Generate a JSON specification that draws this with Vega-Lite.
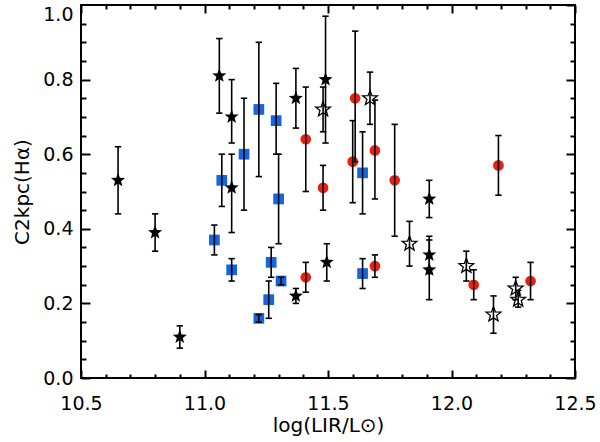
{
  "$schema": "https://vega.github.io/schema/vega-lite/v6.json",
  "width": 494,
  "height": 373,
  "autosize": {"type": "none"},
  "padding": {"left": 81, "top": 5, "right": 25, "bottom": 64},
  "config": {"view": {"stroke": "black", "strokeWidth": 2}},
  "datasets": {
    "stars": [
      {"x": 10.65, "y": 0.53, "lo": 0.44, "hi": 0.62},
      {"x": 10.80, "y": 0.39, "lo": 0.34, "hi": 0.44},
      {"x": 10.90, "y": 0.11, "lo": 0.08, "hi": 0.14},
      {"x": 11.06, "y": 0.81, "lo": 0.71, "hi": 0.91},
      {"x": 11.11, "y": 0.70, "lo": 0.63, "hi": 0.80},
      {"x": 11.11, "y": 0.51, "lo": 0.39, "hi": 0.60},
      {"x": 11.37, "y": 0.75, "lo": 0.67, "hi": 0.83},
      {"x": 11.37, "y": 0.22, "lo": 0.20, "hi": 0.24},
      {"x": 11.49, "y": 0.80, "lo": 0.63, "hi": 0.97},
      {"x": 11.495, "y": 0.31, "lo": 0.26, "hi": 0.36},
      {"x": 11.91, "y": 0.48, "lo": 0.43, "hi": 0.53},
      {"x": 11.91, "y": 0.33, "lo": 0.28, "hi": 0.38},
      {"x": 11.91, "y": 0.29, "lo": 0.21, "hi": 0.37}
    ],
    "open": [
      {"x": 11.48, "y": 0.72, "lo": 0.66, "hi": 0.78},
      {"x": 11.67, "y": 0.75, "lo": 0.68, "hi": 0.82},
      {"x": 11.83, "y": 0.36, "lo": 0.30, "hi": 0.42},
      {"x": 12.06, "y": 0.30, "lo": 0.26, "hi": 0.34},
      {"x": 12.17, "y": 0.17, "lo": 0.12, "hi": 0.22},
      {"x": 12.26, "y": 0.24, "lo": 0.21, "hi": 0.27},
      {"x": 12.27, "y": 0.21, "lo": 0.19, "hi": 0.235}
    ],
    "circles": [
      {"x": 11.41, "y": 0.64, "lo": 0.50, "hi": 0.78},
      {"x": 11.41, "y": 0.27, "lo": 0.23, "hi": 0.31},
      {"x": 11.48, "y": 0.51, "lo": 0.45, "hi": 0.57},
      {"x": 11.61, "y": 0.75, "lo": 0.58, "hi": 0.93},
      {"x": 11.60, "y": 0.58, "lo": 0.47, "hi": 0.69},
      {"x": 11.69, "y": 0.61, "lo": 0.48, "hi": 0.745},
      {"x": 11.69, "y": 0.30, "lo": 0.27, "hi": 0.33},
      {"x": 11.77, "y": 0.53, "lo": 0.38, "hi": 0.68},
      {"x": 12.09, "y": 0.25, "lo": 0.21, "hi": 0.29},
      {"x": 12.19, "y": 0.57, "lo": 0.49, "hi": 0.65},
      {"x": 12.32, "y": 0.26, "lo": 0.21, "hi": 0.31}
    ],
    "squares": [
      {"x": 11.04, "y": 0.37, "lo": 0.33, "hi": 0.41},
      {"x": 11.07, "y": 0.53, "lo": 0.46, "hi": 0.60},
      {"x": 11.11, "y": 0.29, "lo": 0.26, "hi": 0.32},
      {"x": 11.16, "y": 0.60, "lo": 0.45, "hi": 0.75},
      {"x": 11.22, "y": 0.72, "lo": 0.54, "hi": 0.90},
      {"x": 11.22, "y": 0.16, "lo": 0.15, "hi": 0.17},
      {"x": 11.26, "y": 0.21, "lo": 0.16, "hi": 0.26},
      {"x": 11.27, "y": 0.31, "lo": 0.27, "hi": 0.35},
      {"x": 11.29, "y": 0.69, "lo": 0.60, "hi": 0.79},
      {"x": 11.30, "y": 0.48, "lo": 0.36, "hi": 0.60},
      {"x": 11.31, "y": 0.26, "lo": 0.25, "hi": 0.27},
      {"x": 11.64, "y": 0.55, "lo": 0.44, "hi": 0.66},
      {"x": 11.64, "y": 0.28, "lo": 0.24, "hi": 0.32}
    ],
    "bars": [
      {"x": 10.65, "lo": 0.44, "hi": 0.62}, {"x": 10.80, "lo": 0.34, "hi": 0.44}, {"x": 10.90, "lo": 0.08, "hi": 0.14},
      {"x": 11.06, "lo": 0.71, "hi": 0.91}, {"x": 11.11, "lo": 0.63, "hi": 0.80}, {"x": 11.11, "lo": 0.39, "hi": 0.60},
      {"x": 11.37, "lo": 0.67, "hi": 0.83}, {"x": 11.37, "lo": 0.20, "hi": 0.24}, {"x": 11.49, "lo": 0.63, "hi": 0.97},
      {"x": 11.495, "lo": 0.26, "hi": 0.36}, {"x": 11.91, "lo": 0.43, "hi": 0.53}, {"x": 11.91, "lo": 0.28, "hi": 0.38},
      {"x": 11.91, "lo": 0.21, "hi": 0.37},
      {"x": 11.48, "lo": 0.66, "hi": 0.78}, {"x": 11.67, "lo": 0.68, "hi": 0.82}, {"x": 11.83, "lo": 0.30, "hi": 0.42},
      {"x": 12.06, "lo": 0.26, "hi": 0.34}, {"x": 12.17, "lo": 0.12, "hi": 0.22}, {"x": 12.26, "lo": 0.21, "hi": 0.27},
      {"x": 12.27, "lo": 0.19, "hi": 0.235},
      {"x": 11.41, "lo": 0.50, "hi": 0.78}, {"x": 11.41, "lo": 0.23, "hi": 0.31}, {"x": 11.48, "lo": 0.45, "hi": 0.57},
      {"x": 11.61, "lo": 0.58, "hi": 0.93}, {"x": 11.60, "lo": 0.47, "hi": 0.69}, {"x": 11.69, "lo": 0.48, "hi": 0.745},
      {"x": 11.69, "lo": 0.27, "hi": 0.33}, {"x": 11.77, "lo": 0.38, "hi": 0.68}, {"x": 12.09, "lo": 0.21, "hi": 0.29},
      {"x": 12.19, "lo": 0.49, "hi": 0.65}, {"x": 12.32, "lo": 0.21, "hi": 0.31},
      {"x": 11.04, "lo": 0.33, "hi": 0.41}, {"x": 11.07, "lo": 0.46, "hi": 0.60}, {"x": 11.11, "lo": 0.26, "hi": 0.32},
      {"x": 11.16, "lo": 0.45, "hi": 0.75}, {"x": 11.22, "lo": 0.54, "hi": 0.90}, {"x": 11.22, "lo": 0.15, "hi": 0.17},
      {"x": 11.26, "lo": 0.16, "hi": 0.26}, {"x": 11.27, "lo": 0.27, "hi": 0.35}, {"x": 11.29, "lo": 0.60, "hi": 0.79},
      {"x": 11.30, "lo": 0.36, "hi": 0.60}, {"x": 11.31, "lo": 0.25, "hi": 0.27}, {"x": 11.64, "lo": 0.44, "hi": 0.66},
      {"x": 11.64, "lo": 0.24, "hi": 0.32}
    ]
  },
  "resolve": {"axis": {"x": "independent", "y": "independent"}},
  "layer": [
    {
      "data": {"name": "circles"},
      "mark": {"type": "point", "shape": "circle", "filled": true, "color": "#e8200f", "opacity": 1, "size": 115},
      "encoding": {
        "x": {"field": "x", "type": "quantitative", "scale": {"domain": [10.5, 12.5], "nice": false, "zero": false},
          "axis": {"orient": "bottom", "values": [10.5, 11, 11.5, 12, 12.5], "format": ".1f", "grid": false, "domain": false, "labelFlush": false,
            "tickSize": 8, "tickColor": "black", "tickWidth": 2, "offset": -8, "labelPadding": 16,
            "labelFont": "DejaVu Sans", "labelFontSize": 19, "labelColor": "black",
            "title": "log(LIR/L⊙)", "titlePadding": 2, "titleFont": "DejaVu Sans", "titleFontSize": 20, "titleFontWeight": "normal", "titleColor": "black"}},
        "y": {"field": "y", "type": "quantitative", "scale": {"domain": [0, 1], "nice": false, "zero": false},
          "axis": {"orient": "left", "values": [0, 0.2, 0.4, 0.6, 0.8], "format": ".1f", "grid": false, "domain": false, "labelFlush": false,
            "tickSize": 9, "tickColor": "black", "tickWidth": 2, "offset": -9, "labelPadding": 8,
            "labelFont": "DejaVu Sans", "labelFontSize": 19, "labelColor": "black",
            "title": "C2kpc(Hα)", "titlePadding": 10, "titleFont": "DejaVu Sans", "titleFontSize": 20, "titleFontWeight": "normal", "titleColor": "black"}}
      }
    },
    {
      "data": {"name": "squares"},
      "mark": {"type": "point", "shape": "square", "filled": true, "color": "#1565e0", "opacity": 1, "size": 115},
      "encoding": {
        "x": {"field": "x", "type": "quantitative", "scale": {"domain": [10.5, 12.5], "nice": false, "zero": false},
          "axis": {"orient": "top", "values": [10.5, 11, 11.5, 12, 12.5], "grid": false, "domain": false, "tickSize": 8, "tickColor": "black", "tickWidth": 2, "offset": -8, "labels": false, "title": null}},
        "y": {"field": "y", "type": "quantitative", "scale": {"domain": [0, 1], "nice": false, "zero": false},
          "axis": {"orient": "right", "values": [0, 0.2, 0.4, 0.6, 0.8, 1], "grid": false, "domain": false, "tickSize": 9, "tickColor": "black", "tickWidth": 2, "offset": -9, "labels": false, "title": null}}
      }
    },
    {
      "data": {"name": "stars"},
      "mark": {"type": "point", "shape": "M0,-1L0.25,-0.34L0.951,-0.309L0.4,0.13L0.588,0.809L0,0.42L-0.588,0.809L-0.4,0.13L-0.951,-0.309L-0.25,-0.34Z", "filled": true, "color": "black", "opacity": 1, "size": 220},
      "encoding": {
        "x": {"field": "x", "type": "quantitative", "scale": {"domain": [10.5, 12.5], "nice": false, "zero": false},
          "axis": {"orient": "bottom", "values": [10.6, 10.7, 10.8, 10.9, 11.1, 11.2, 11.3, 11.4, 11.6, 11.7, 11.8, 11.9, 12.1, 12.2, 12.3, 12.4], "grid": false, "domain": false, "tickSize": 4, "tickColor": "black", "tickWidth": 2, "offset": -4, "labels": false, "title": null}},
        "y": {"field": "y", "type": "quantitative", "scale": {"domain": [0, 1], "nice": false, "zero": false},
          "axis": {"orient": "left", "values": [0.05, 0.1, 0.15, 0.25, 0.3, 0.35, 0.45, 0.5, 0.55, 0.65, 0.7, 0.75, 0.85, 0.9, 0.95], "grid": false, "domain": false, "tickSize": 5, "tickColor": "black", "tickWidth": 2, "offset": -5, "labels": false, "title": null}}
      }
    },
    {
      "data": {"name": "open"},
      "mark": {"type": "point", "shape": "M0,-1L0.25,-0.34L0.951,-0.309L0.4,0.13L0.588,0.809L0,0.42L-0.588,0.809L-0.4,0.13L-0.951,-0.309L-0.25,-0.34Z", "filled": false, "fill": "white", "fillOpacity": 1, "stroke": "black", "strokeWidth": 1.3, "opacity": 1, "size": 240},
      "encoding": {
        "x": {"field": "x", "type": "quantitative", "scale": {"domain": [10.5, 12.5], "nice": false, "zero": false},
          "axis": {"orient": "top", "values": [10.6, 10.7, 10.8, 10.9, 11.1, 11.2, 11.3, 11.4, 11.6, 11.7, 11.8, 11.9, 12.1, 12.2, 12.3, 12.4], "grid": false, "domain": false, "tickSize": 4, "tickColor": "black", "tickWidth": 2, "offset": -4, "labels": false, "title": null}},
        "y": {"field": "y", "type": "quantitative", "scale": {"domain": [0, 1], "nice": false, "zero": false},
          "axis": {"orient": "right", "values": [0.05, 0.1, 0.15, 0.25, 0.3, 0.35, 0.45, 0.5, 0.55, 0.65, 0.7, 0.75, 0.85, 0.9, 0.95], "grid": false, "domain": false, "tickSize": 5, "tickColor": "black", "tickWidth": 2, "offset": -5, "labels": false, "title": null}}
      }
    },
    {
      "data": {"name": "bars"},
      "mark": {"type": "rule", "color": "black", "strokeWidth": 1.6},
      "encoding": {
        "x": {"field": "x", "type": "quantitative", "scale": {"domain": [10.5, 12.5], "nice": false, "zero": false}, "axis": null},
        "y": {"field": "lo", "type": "quantitative", "scale": {"domain": [0, 1], "nice": false, "zero": false},
          "axis": {"orient": "left", "values": [1], "format": ".1f", "grid": false, "domain": false, "labelFlush": true, "ticks": false, "labelPadding": 8,
            "labelFont": "DejaVu Sans", "labelFontSize": 19, "labelColor": "black", "title": null}},
        "y2": {"field": "hi"}
      }
    },
    {
      "data": {"name": "bars"},
      "mark": {"type": "point", "shape": "stroke", "filled": false, "color": "black", "strokeWidth": 1.6, "opacity": 1, "size": 40},
      "encoding": {
        "x": {"field": "x", "type": "quantitative", "scale": {"domain": [10.5, 12.5], "nice": false, "zero": false}, "axis": null},
        "y": {"field": "lo", "type": "quantitative", "scale": {"domain": [0, 1], "nice": false, "zero": false}, "axis": null}
      }
    },
    {
      "data": {"name": "bars"},
      "mark": {"type": "point", "shape": "stroke", "filled": false, "color": "black", "strokeWidth": 1.6, "opacity": 1, "size": 40},
      "encoding": {
        "x": {"field": "x", "type": "quantitative", "scale": {"domain": [10.5, 12.5], "nice": false, "zero": false}, "axis": null},
        "y": {"field": "hi", "type": "quantitative", "scale": {"domain": [0, 1], "nice": false, "zero": false}, "axis": null}
      }
    }
  ]
}
